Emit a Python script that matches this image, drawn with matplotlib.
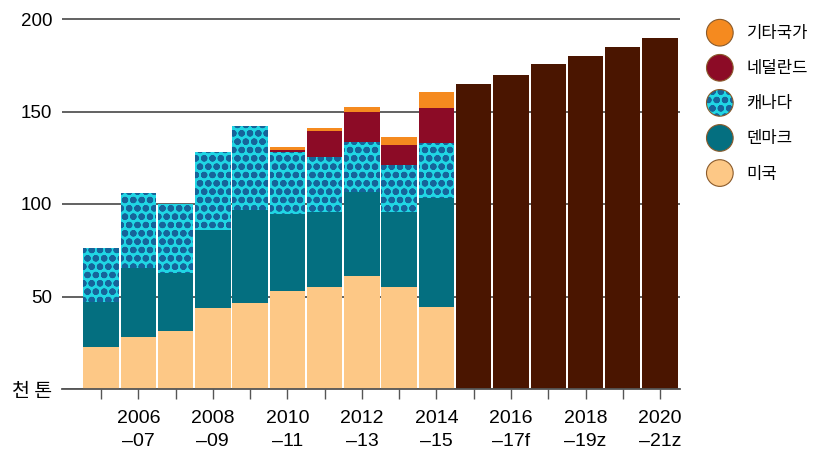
import matplotlib
matplotlib.use("Agg")
import matplotlib.pyplot as plt
import matplotlib.patches as mpatches
from matplotlib.legend_handler import HandlerBase
import numpy as np

# Seasons (only every other one is labelled on the axis)
tick_labels = ["", "2006\n–07", "", "2008\n–09", "", "2010\n–11", "", "2012\n–13",
               "", "2014\n–15", "", "2016\n–17f", "", "2018\n–19z", "", "2020\n–21z"]

# Thousand tonnes by origin, 2005-06 to 2014-15
us = [22.5, 28.3, 31.5, 43.6, 46.7, 53.2, 55.3, 61.3, 55.3, 44.2]
denmark = [24.7, 36.9, 31.0, 42.4, 50.1, 41.2, 40.5, 45.4, 40.5, 58.9]
canada = [29.2, 40.9, 37.3, 42.3, 45.5, 33.9, 29.4, 27.0, 25.2, 30.1]
netherlands = [0, 0, 0, 0, 0, 0.9, 14.4, 16.2, 10.9, 18.5]
others = [0, 0, 0, 0, 0, 1.8, 1.3, 2.4, 4.5, 8.7]

# Forecast totals, 2015-16 to 2020-21
forecast = [165, 170, 175.5, 180, 185, 190]

yticks = [0, 50, 100, 150, 200]
ytick_labels = ["천 톤", "50", "100", "150", "200"]

series_names = ["기타국가", "네덜란드", "캐나다", "덴마크", "미국"]

C_US = "#fdc886"
C_DK = "#046f80"
C_CA = "#20d6e4"
C_CA_DOT = "#16649a"
C_NL = "#8c0b26"
C_OT = "#f58a1f"
C_FC = "#4a1500"
GRID = "#555555"

plt.rcParams["hatch.linewidth"] = 2.2
fonts = ["Liberation Sans", "Noto Sans CJK KR", "DejaVu Sans"]
plt.rcParams["font.family"] = fonts

fig = plt.figure(figsize=(8.17, 4.49), dpi=100)
ax = fig.add_axes([62 / 817, 60 / 449, 618 / 817, 373.7 / 449])

n_hist = len(us)
x_hist = np.arange(n_hist)
x_fc = np.arange(n_hist, n_hist + len(forecast))
w = 0.95

b0 = np.zeros(n_hist)
ax.bar(x_hist, us, w, bottom=b0, color=C_US, linewidth=0, zorder=2)
b0 += us
ax.bar(x_hist, denmark, w, bottom=b0, color=C_DK, linewidth=0, zorder=2)
b0 += denmark
ax.bar(x_hist, canada, w, bottom=b0, facecolor=C_CA, edgecolor=C_CA_DOT,
       linewidth=0, hatch="oo", zorder=2)
b0 += canada
ax.bar(x_hist, netherlands, w, bottom=b0, color=C_NL, linewidth=0, zorder=2)
b0 += netherlands
ax.bar(x_hist, others, w, bottom=b0, color=C_OT, linewidth=0, zorder=2)

ax.bar(x_fc, forecast, w, color=C_FC, linewidth=0, zorder=2)

ax.set_xlim(-1.046, 15.535)
ax.set_ylim(0, 202)
ax.set_yticks(yticks)
ax.set_yticklabels(ytick_labels)
ax.yaxis.grid(True, color=GRID, linewidth=1.3, zorder=0)
ax.set_axisbelow(True)
ax.tick_params(axis="y", length=0, pad=7, labelsize=13.5)
for lab in ax.get_yticklabels():
    if lab.get_text() == "천 톤":
        lab.set_fontfamily(["Noto Sans CJK KR", "DejaVu Sans"])
        lab.set_fontsize(14)

ax.set_xticks(np.arange(16))
ax.set_xticklabels(tick_labels, fontsize=14, linespacing=1.45)
ax.tick_params(axis="x", length=7, width=1, color=GRID, pad=8, direction="out")

for s in ["top", "right", "left"]:
    ax.spines[s].set_visible(False)
ax.spines["bottom"].set_color(GRID)
ax.spines["bottom"].set_linewidth(1.3)
ax.spines["bottom"].set_zorder(3)


class CircleHandler(HandlerBase):
    def __init__(self, face, edge="#8a5a2a", hatch=None, hatch_color=None):
        super().__init__()
        self.face = face
        self.edge = edge
        self.hatch = hatch
        self.hatch_color = hatch_color

    def create_artists(self, legend, orig_handle, xdescent, ydescent,
                       width, height, fontsize, trans):
        cx = width / 2 - xdescent
        cy = height / 2 - ydescent
        r = 9.6
        arts = []
        if self.hatch:
            arts.append(mpatches.Circle((cx, cy), r, facecolor=self.face,
                                        edgecolor=self.hatch_color, hatch=self.hatch,
                                        linewidth=0, transform=trans))
            arts.append(mpatches.Circle((cx, cy), r, facecolor="none",
                                        edgecolor=self.edge, linewidth=0.8,
                                        transform=trans))
        else:
            arts.append(mpatches.Circle((cx, cy), r, facecolor=self.face,
                                        edgecolor=self.edge, linewidth=0.8,
                                        transform=trans))
        return arts


handles = [mpatches.Patch(label=n) for n in series_names]
handler_map = {
    handles[0]: CircleHandler(C_OT),
    handles[1]: CircleHandler(C_NL),
    handles[2]: CircleHandler(C_CA, hatch="oo", hatch_color=C_CA_DOT),
    handles[3]: CircleHandler(C_DK),
    handles[4]: CircleHandler(C_US),
}
leg = fig.legend(handles=handles, handler_map=handler_map, loc="upper left",
                 bbox_to_anchor=(706.5 / 817, 1 - 22 / 449), frameon=False,
                 borderpad=0, borderaxespad=0, handlelength=1.6,
                 handleheight=1.6, handletextpad=0.8, labelspacing=0.82,
                 prop={"family": ["Noto Sans CJK KR", "DejaVu Sans"], "size": 12})

fig.savefig("out.png", dpi=100)
